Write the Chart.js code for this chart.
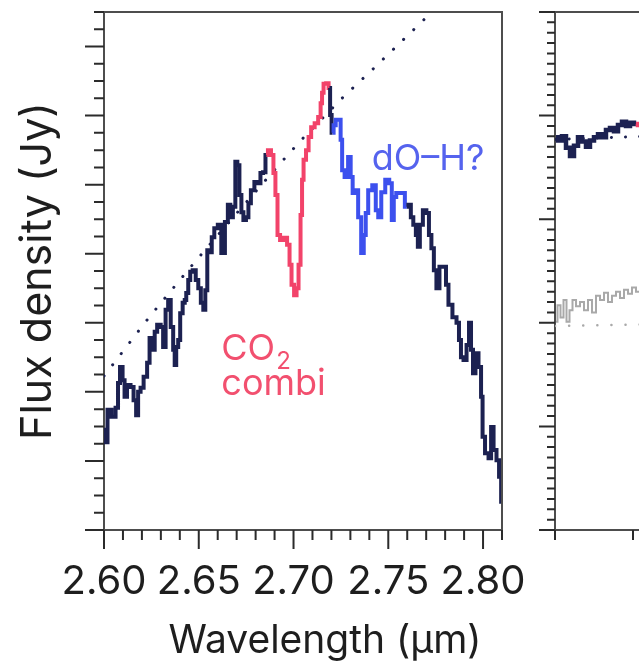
<!DOCTYPE html>
<html>
<head>
<meta charset="utf-8">
<script src="https://cdn.jsdelivr.net/npm/chart.js@4"></script>
<style>
  html, body { margin: 0; padding: 0; background: #fff; overflow: hidden; width: 639px; height: 667px; }
  #left { position: absolute; left: 0; top: 0; }
  #right { position: absolute; left: 520px; top: 0; }
</style>
</head>
<body>
<canvas id="left" width="540" height="667"></canvas>
<canvas id="right" width="400" height="667"></canvas>
<script>
// Colours
const NAVY = '#1c2151';
const RED = '#f2436a';
const BLUE = '#3c50ee';
const GRAY = '#a9a9a9';
const AXIS = '#4d4d4d';
const FONT = "'Inter', 'Noto Sans', sans-serif";

// Left panel: spectrum (µm, arbitrary flux units; the y axis carries no labels)
const wavelength = [
  2.6000, 2.6011, 2.6026, 2.6053, 2.6069, 2.6079, 2.6090, 2.6106, 2.6111, 2.6132,
  2.6148, 2.6164, 2.6175, 2.6185, 2.6201, 2.6217, 2.6238, 2.6243, 2.6254, 2.6265,
  2.6270, 2.6291, 2.6307, 2.6317, 2.6333, 2.6344, 2.6360, 2.6370, 2.6376, 2.6386,
  2.6397, 2.6407, 2.6423, 2.6429, 2.6439, 2.6450, 2.6460, 2.6476, 2.6492, 2.6503,
  2.6519, 2.6529, 2.6540, 2.6550, 2.6566, 2.6571, 2.6593, 2.6608, 2.6630, 2.6646,
  2.6661, 2.6672, 2.6688, 2.6698, 2.6709, 2.6720, 2.6730, 2.6741, 2.6757, 2.6767,
  2.6783, 2.6804, 2.6820, 2.6831, 2.6847, 2.6857,
  2.6873, 2.6889, 2.6899, 2.6910, 2.6921, 2.6937, 2.6958, 2.6974, 2.6984, 2.6995,
  2.7011, 2.7021, 2.7032, 2.7042, 2.7048, 2.7058, 2.7074, 2.7085, 2.7101, 2.7122,
  2.7138, 2.7148, 2.7153, 2.7164, 2.7180, 2.7190,
  2.7196, 2.7206,
  2.7217, 2.7228, 2.7243, 2.7254, 2.7259, 2.7280, 2.7296, 2.7307, 2.7317, 2.7333,
  2.7349, 2.7365, 2.7376, 2.7386, 2.7402, 2.7429, 2.7439, 2.7455, 2.7471, 2.7497,
  2.7513, 2.7524, 2.7534, 2.7550, 2.7577, 2.7598,
  2.7614, 2.7624, 2.7640, 2.7651, 2.7661, 2.7672, 2.7693, 2.7709, 2.7720, 2.7735,
  2.7746, 2.7762, 2.7778, 2.7799, 2.7810, 2.7825, 2.7852, 2.7868, 2.7878, 2.7889,
  2.7905, 2.7921, 2.7931, 2.7942, 2.7952, 2.7968, 2.7984, 2.7995, 2.8000, 2.8021,
  2.8037, 2.8048, 2.8063, 2.8079, 2.8090, 2.8101
];
const flux = [
  1.45, 1.27, 1.74, 1.64, 1.77, 2.13, 2.36, 2.17, 1.93, 2.10,
  2.07, 1.88, 1.66, 2.00, 2.06, 2.22, 2.42, 2.78, 2.68, 2.61,
  2.87, 2.97, 2.94, 2.65, 3.19, 3.33, 2.94, 2.61, 2.39, 2.65,
  2.75, 3.14, 3.29, 3.33, 3.43, 3.62, 3.74, 3.76, 3.62, 3.50,
  3.29, 3.19, 3.47, 4.05, 4.02, 4.24, 4.37, 4.42, 4.01, 4.46,
  4.71, 4.53, 4.68, 5.33, 5.28, 4.85, 4.60, 4.49, 4.53, 4.73,
  4.92, 5.04, 5.02, 5.17, 5.18, 5.43,
  5.50, 5.43, 5.17, 4.85, 4.27, 4.20, 4.23, 4.13, 3.84, 3.55,
  3.40, 3.50, 3.84, 4.56, 5.07, 5.36, 5.50, 5.69, 5.83, 5.89,
  5.98, 6.18, 6.33, 6.46, 6.47, 6.40,
  6.01, 5.75,
  5.86, 5.94, 5.94, 5.65, 5.21, 5.11, 5.40, 5.11, 4.88, 4.92,
  4.53, 4.01, 4.27, 4.59, 4.92, 4.99, 4.63, 4.53, 4.89, 5.07,
  5.02, 4.49, 4.82, 4.88, 4.88, 4.68,
  4.71, 4.53, 4.42, 4.27, 4.10, 4.42, 4.63, 4.59, 4.27, 4.08,
  3.76, 3.50, 3.81, 3.81, 3.55, 3.26, 3.08, 3.00, 2.75, 2.50,
  2.46, 2.68, 3.00, 2.61, 2.27, 2.56, 2.36, 1.93, 1.35, 1.11,
  1.04, 1.49, 1.16, 1.01, 0.77, 0.41
];

// Dotted continuum
const continuumWavelength = [2.6000, 2.6238, 2.6476, 2.6714, 2.6937, 2.7042, 2.7259, 2.7429, 2.7730, 2.7760];
const continuumFlux = [2.23, 3.08, 3.87, 4.63, 5.33, 5.65, 6.26, 6.70, 7.50, 7.56];

// Highlighted bands [start, end) in µm
const co2Band = [2.6857, 2.7190];
const ohBand = [2.7206, 2.7598];

const xTickValues = [2.60, 2.65, 2.70, 2.75, 2.80];
const xTitle = 'Wavelength (µm)';
const yTitle = 'Flux density (Jy)';

// Band labels
const bandLabels = [
  { text: 'CO', sub: '2', x: 2.6619, y: 2.46, color: '#f2506f' },
  { text: 'combi', x: 2.6619, y: 1.95, color: '#f2506f' },
  { text: 'dO\u2013H?', x: 2.7413, y: 5.21, color: '#5563ee' }
];

// Right panel (cut off by the page edge)
const rightWavelength = [
  3.0013, 3.0064, 3.0115, 3.0167, 3.0218, 3.0269, 3.0321, 3.0372, 3.0423, 3.0474,
  3.0526, 3.0577, 3.0628, 3.0679, 3.0731, 3.0782, 3.0833, 3.0885, 3.0936, 3.0987,
  3.1038, 3.1090, 3.1192, 3.1295
];
const rightFlux = [
  3.79, 3.76, 3.80, 3.69, 3.61, 3.71, 3.79, 3.75, 3.70, 3.76,
  3.79, 3.82, 3.79, 3.86, 3.88, 3.85, 3.91, 3.94, 3.90, 3.93,
  3.92, 3.91, 3.93, 3.90
];
const rightRedFrom = 3.1038;
const rightGrayWavelength = [
  3.0013, 3.0051, 3.0090, 3.0128, 3.0167, 3.0205, 3.0244, 3.0295, 3.0346, 3.0397,
  3.0449, 3.0500, 3.0551, 3.0603, 3.0654, 3.0705, 3.0756, 3.0808, 3.0859, 3.0910,
  3.0962, 3.1013, 3.1064, 3.1115
];
const rightGrayFlux = [
  2.01, 2.17, 2.05, 2.22, 2.01, 2.12, 2.22, 2.16, 2.20, 2.12,
  2.22, 2.10, 2.26, 2.22, 2.29, 2.20, 2.26, 2.30, 2.24, 2.32,
  2.28, 2.34, 2.30, 2.36
];
const rightContinuumWavelength = [3.00, 3.15];
const rightContinuumFlux = [3.77, 3.81];
const rightGrayContinuumFlux = [1.97, 1.99];

const pts = (xs, ys) => xs.map((x, i) => ({ x, y: ys[i] }));

function bandColor(x) {
  if (x >= co2Band[0] && x < co2Band[1]) return RED;
  if (x >= ohBand[0] && x < ohBand[1]) return BLUE;
  return NAVY;
}

// Outward tick marks (major + minor) and the top/right frame
const tickMarks = {
  id: 'tickMarks',
  afterDraw(chart, args, o) {
    const { ctx, chartArea: a } = chart;
    const xs = chart.scales.x, ys = chart.scales.y;
    ctx.save();
    ctx.strokeStyle = o.color;
    ctx.lineWidth = 2;
    ctx.beginPath();
    for (let i = 0; ; i++) {
      const v = ys.min + i * o.yMinor;
      if (v > ys.max + 1e-9) break;
      const p = ys.getPixelForValue(v);
      const len = (o.yMajorEvery && i % o.yMajorEvery === 0) ? o.yMajorLen : o.yMinorLen;
      ctx.moveTo(a.left - len, p);
      ctx.lineTo(a.left, p);
    }
    for (let i = 0; ; i++) {
      const v = xs.min + i * o.xMinor;
      if (v > xs.max + 1e-9) break;
      const p = xs.getPixelForValue(v);
      const len = (o.xMajorEvery && i % o.xMajorEvery === 0) ? o.xMajorLen : o.xMinorLen;
      ctx.moveTo(p, a.bottom);
      ctx.lineTo(p, a.bottom + len);
    }
    ctx.stroke();
    ctx.strokeStyle = AXIS;
    ctx.beginPath();
    ctx.moveTo(a.left, a.top);
    ctx.lineTo(a.right, a.top);
    ctx.lineTo(a.right, a.bottom);
    ctx.stroke();
    ctx.restore();
  }
};

// Band annotations and the x-axis title (sits a little right of the plot centre)
const labelPlugin = {
  id: 'bandText',
  afterDraw(chart) {
    const { ctx, chartArea: a } = chart;
    const xs = chart.scales.x, ys = chart.scales.y;
    ctx.save();
    ctx.textBaseline = 'alphabetic';
    ctx.textAlign = 'left';
    bandLabels.forEach(l => {
      const px = xs.getPixelForValue(l.x), py = ys.getPixelForValue(l.y);
      ctx.fillStyle = l.color;
      ctx.font = '36px ' + FONT;
      ctx.fillText(l.text, px, py);
      if (l.sub) {
        const w = ctx.measureText(l.text).width;
        ctx.font = '24px ' + FONT;
        ctx.fillText(l.sub, px + w + 1, py + 9);
      }
    });
    ctx.fillStyle = '#1e1e1e';
    ctx.font = '39px ' + FONT;
    ctx.textAlign = 'center';
    ctx.textBaseline = 'middle';
    ctx.fillText(xTitle, (a.left + a.right) / 2 + 22, 641);
    ctx.restore();
  }
};

new Chart(document.getElementById('left'), {
  type: 'line',
  data: {
    datasets: [
      {
        data: pts(wavelength, flux),
        borderColor: NAVY,
        borderWidth: 4,
        pointRadius: 0,
        stepped: 'middle',
        segment: { borderColor: ctx => bandColor(ctx.p0.parsed.x) },
        order: 1
      },
      {
        data: pts(continuumWavelength, continuumFlux),
        borderColor: NAVY,
        borderWidth: 3,
        borderDash: [0.1, 14],
        borderCapStyle: 'round',
        pointRadius: 0,
        clip: 0,
        order: 2
      }
    ]
  },
  options: {
    responsive: false,
    animation: false,
    events: [],
    layout: { padding: { top: 12, right: 38, left: 0, bottom: 0 } },
    plugins: {
      legend: { display: false },
      tooltip: { enabled: false },
      tickMarks: {
        color: '#2b2b2b',
        yMinor: 0.25, yMajorEvery: 4, yMajorLen: 19, yMinorLen: 10,
        xMinor: 0.01, xMajorEvery: 5, xMajorLen: 19, xMinorLen: 10
      }
    },
    scales: {
      x: {
        type: 'linear',
        min: 2.60,
        max: 2.81,
        afterFit: s => { s.height = 137; s.paddingLeft = 0; s.paddingRight = 0; },
        afterBuildTicks: s => { s.ticks = xTickValues.map(v => ({ value: v })); },
        grid: { display: false, drawTicks: false },
        border: { display: true, color: AXIS, width: 2 },
        ticks: {
          callback: v => Number(v).toFixed(2),
          font: { family: FONT, size: 40 },
          color: '#1e1e1e',
          padding: 28,
          maxRotation: 0,
          autoSkip: false
        },
        title: { display: false }
      },
      y: {
        type: 'linear',
        min: 0,
        max: 7.5,
        afterFit: s => { s.width = 104; },
        grid: { display: false, drawTicks: false },
        border: { display: true, color: AXIS, width: 2 },
        ticks: { display: false },
        title: {
          display: true,
          text: yTitle,
          font: { family: FONT, size: 43 },
          color: '#1e1e1e',
          padding: { top: 12, bottom: 0 }
        }
      }
    }
  },
  plugins: [tickMarks, labelPlugin]
});

new Chart(document.getElementById('right'), {
  type: 'line',
  data: {
    datasets: [
      {
        data: pts(rightWavelength, rightFlux),
        borderColor: NAVY,
        borderWidth: 4.5,
        pointRadius: 0,
        stepped: 'middle',
        segment: { borderColor: ctx => ctx.p0.parsed.x >= rightRedFrom ? RED : NAVY },
        order: 1
      },
      {
        data: pts(rightGrayWavelength, rightGrayFlux),
        borderColor: GRAY,
        borderWidth: 2,
        pointRadius: 0,
        stepped: 'middle',
        order: 1
      },
      {
        data: pts(rightContinuumWavelength, rightContinuumFlux),
        borderColor: NAVY,
        borderWidth: 3,
        borderDash: [0.1, 14],
        borderCapStyle: 'round',
        pointRadius: 0,
        order: 2
      },
      {
        data: pts(rightContinuumWavelength, rightGrayContinuumFlux),
        borderColor: GRAY,
        borderWidth: 2.5,
        borderDash: [0.1, 14],
        borderCapStyle: 'round',
        pointRadius: 0,
        order: 2
      }
    ]
  },
  options: {
    responsive: false,
    animation: false,
    events: [],
    layout: { padding: { top: 12, right: 14, left: 0, bottom: 0 } },
    plugins: {
      legend: { display: false },
      tooltip: { enabled: false },
      tickMarks: {
        color: '#2b2b2b',
        yMinor: 0.1, yMajorEvery: 10, yMajorLen: 16, yMinorLen: 8,
        xMinor: 0.1, xMajorEvery: 0, xMajorLen: 19, xMinorLen: 10
      }
    },
    scales: {
      x: {
        type: 'linear',
        min: 3.00,
        max: 3.45,
        afterFit: s => { s.height = 137; s.paddingLeft = 0; s.paddingRight = 0; },
        grid: { display: false, drawTicks: false },
        border: { display: true, color: AXIS, width: 2 },
        ticks: { display: false }
      },
      y: {
        type: 'linear',
        min: 0,
        max: 5,
        afterFit: s => { s.width = 35; },
        grid: { display: false, drawTicks: false },
        border: { display: true, color: AXIS, width: 2 },
        ticks: { display: false }
      }
    }
  },
  plugins: [tickMarks]
});
</script>
</body>
</html>
